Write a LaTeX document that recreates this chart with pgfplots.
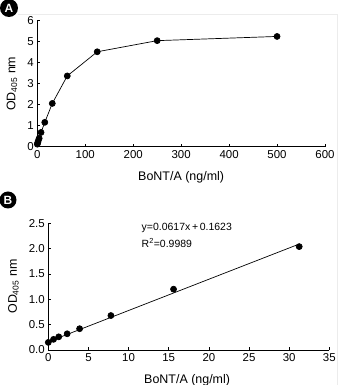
\documentclass[border=0pt]{standalone}
\usepackage{pgfplots}
\pgfplotsset{compat=1.18}
\usepackage{fontspec}
\setmainfont{Liberation Sans}
\begin{document}
\begin{tikzpicture}
\useasboundingbox (0bp,0bp) rectangle (339bp,385bp);
\draw[gray!15, line width=0.8bp] (18bp,371bp) -- (337bp,371bp) -- (337bp,0bp);
\pgfplotsset{
  myaxis/.style={
    scale only axis,
    axis lines=left,
    axis line style={-, line width=0.6bp},
    tick style={line width=0.6bp, black},
    major tick length=3bp,
    tick align=inside,
    font=\fontsize{12.5}{14}\selectfont,
    tick label style={font=\fontsize{11.5}{13}\selectfont},
    /pgf/number format/assume math mode=true,
    ylabel={OD\textsubscript{\fontsize{8.5}{9}\selectfont 405} nm},
    xlabel={BoNT/A (ng/ml)},
    clip=false,
  },
  mypl/.style={black, line width=0.7bp, mark=*, mark size=3bp, mark options={fill=black}},
}
\begin{axis}[myaxis, at={(37.3bp,238.3bp)}, anchor=south west,
  width=287.7bp, height=126bp,
  xmin=0, xmax=600, ymin=0, ymax=6,
  xtick={0,100,...,600}, ytick={0,1,...,6},
  ylabel style={at={(axis description cs:-0.088,0.5)}, anchor=center},
  xlabel style={at={(axis description cs:0.5,-0.245)}, anchor=center},
]
\addplot[mypl] coordinates {(0,0.12) (0.98,0.2) (1.95,0.28) (3.9,0.4) (7.8,0.68) (15.6,1.16) (31.25,2.06) (62.5,3.37) (125,4.52) (250,5.05) (500,5.25)};
\end{axis}
\begin{axis}[myaxis, at={(48.3bp,35bp)}, anchor=south west,
  width=281bp, height=126.7bp,
  xmin=0, xmax=35, ymin=0, ymax=2.5,
  xtick={0,5,...,35}, ytick={0,0.5,...,2.5},
  yticklabel style={/pgf/number format/.cd, fixed, fixed zerofill, precision=1},
  ylabel style={at={(axis description cs:-0.124,0.5)}, anchor=center},
  xlabel style={at={(axis description cs:0.494,-0.237)}, anchor=center},
]
\addplot[mypl, only marks] coordinates {(0,0.15) (0.65,0.21) (1.3,0.26) (2.35,0.32) (3.9,0.42) (7.8,0.68) (15.6,1.2) (31.25,2.04)};
\addplot[black, mark=none, line width=0.7bp] coordinates {(0,0.1623) (31.25,2.0904)};
\node[anchor=west, font=\fontsize{10.5}{12}\selectfont] at (axis cs:11.2,2.41) {y=0.0617x\,+\,0.1623};
\node[anchor=west, font=\fontsize{10.5}{12}\selectfont] at (axis cs:11.2,2.11) {R\textsuperscript{2}=0.9989};
\end{axis}
\fill[black] (9bp,377bp) circle (9bp);
\node[white, font=\bfseries\fontsize{12}{12}\selectfont] at (9bp,377bp) {A};
\fill[black] (8bp,185bp) circle (8.5bp);
\node[white, font=\bfseries\fontsize{12}{12}\selectfont] at (8bp,185bp) {B};
\end{tikzpicture}
\end{document}
